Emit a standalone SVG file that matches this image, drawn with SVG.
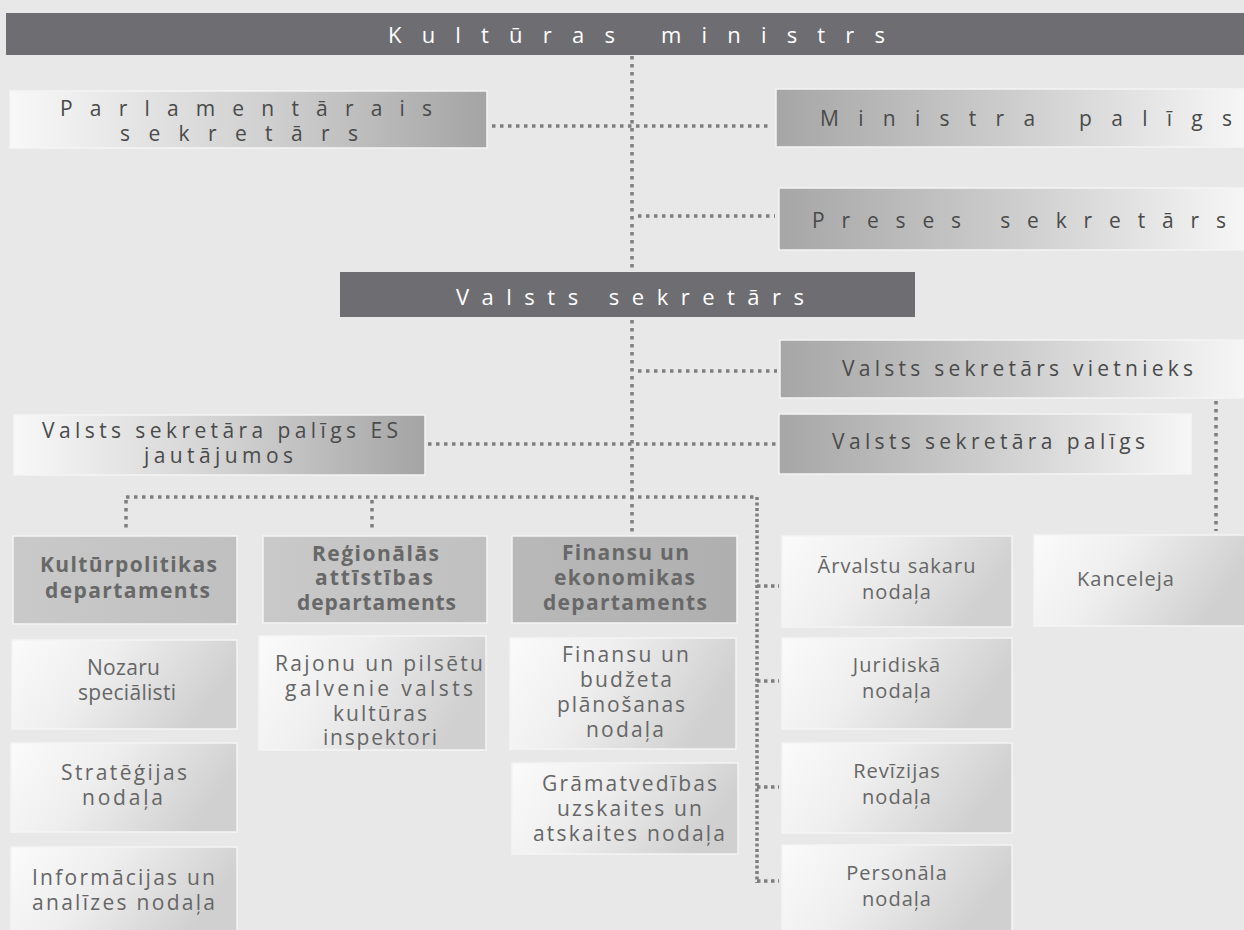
<svg xmlns="http://www.w3.org/2000/svg" width="1244" height="930" viewBox="0 0 1244 930">
<defs>
<linearGradient id="gWL" x1="0" y1="0" x2="1" y2="0"><stop offset="0" stop-color="#f8f8f8"/><stop offset="0.55" stop-color="#cfcfcf"/><stop offset="1" stop-color="#a4a4a4"/></linearGradient>
<linearGradient id="gGL" x1="0" y1="0" x2="1" y2="0"><stop offset="0" stop-color="#a6a6a6"/><stop offset="0.5" stop-color="#cdcdcd"/><stop offset="1" stop-color="#f6f6f6"/></linearGradient>
<linearGradient id="gSub" x1="0" y1="0" x2="1" y2="0.3"><stop offset="0" stop-color="#fbfbfb"/><stop offset="0.45" stop-color="#eeeeee"/><stop offset="1" stop-color="#d0d0d0"/></linearGradient>
<linearGradient id="gDep" x1="0" y1="0" x2="1" y2="0"><stop offset="0" stop-color="#c9c9c9"/><stop offset="1" stop-color="#c0c0c0"/></linearGradient>
<linearGradient id="gDepD" x1="0" y1="0" x2="1" y2="0"><stop offset="0" stop-color="#b9b9b9"/><stop offset="1" stop-color="#afafaf"/></linearGradient>
</defs>
<style>
text{font-family:"Open Sans","Noto Sans","DejaVu Sans",sans-serif;text-anchor:middle}
.bar{fill:#6d6d72}
.box{stroke:#f4f4f4;stroke-width:1.5}
.hdr{fill:#ffffff;font-size:22px}
.sp{fill:#4a4a4a;font-size:21px}
.dep{fill:#686868;font-size:21px;font-weight:bold}
.sub{fill:#666666;font-size:21px}
.sub4{fill:#666666;font-size:20px;letter-spacing:1px}
.dot{fill:none;stroke:#7e7e7e;stroke-width:3.5;stroke-dasharray:3.5 4.5}
.dotd{fill:none;stroke:#7e7e7e;stroke-width:3.5;stroke-dasharray:3 2.5}
.dots{fill:none;stroke:#7e7e7e;stroke-width:3.5;stroke-dasharray:3.5 3.5}
</style>
<rect width="1244" height="930" fill="#e8e8e8"/>

<g id="connectors">
<path class="dot" d="M632 56 V535"/>
<path class="dot" d="M492 126 H772"/>
<path class="dot" d="M638 216 H775"/>
<path class="dot" d="M638 371 H777"/>
<path class="dot" d="M428 444 H776"/>
<path class="dot" d="M1216 401 V531"/>
<path class="dot" d="M126 497 H754"/>
<path class="dot" d="M126 500 V529"/>
<path class="dot" d="M372 500 V531"/>
<path class="dotd" d="M757 497 V883"/>
<path class="dots" d="M757 586 H779"/>
<path class="dots" d="M757 681 H779"/>
<path class="dots" d="M757 787 H779"/>
<path class="dots" d="M757 881 H779"/>
</g>

<g id="ministrs">
<rect class="bar" x="6" y="13" width="1240" height="42"/>
<text class="hdr" x="636.5" y="43" textLength="497" lengthAdjust="spacing">Kultūras ministrs</text>
</g>
<g id="parlamentarais">
<rect class="box" x="10" y="91" width="477" height="57" fill="url(#gWL)"/>
<text class="sp" x="246" y="116" textLength="372" lengthAdjust="spacing">Parlamentārais</text>
<text class="sp" x="239" y="141" textLength="238" lengthAdjust="spacing">sekretārs</text>
</g>
<g id="ministra-paligs">
<rect class="box" x="776" y="89" width="470" height="58" fill="url(#gGL)"/>
<text class="sp" x="1026" y="126" textLength="412" lengthAdjust="spacing">Ministra palīgs</text>
</g>
<g id="preses">
<rect class="box" x="779" y="188" width="467" height="62" fill="url(#gGL)"/>
<text class="sp" x="1019" y="228" textLength="414" lengthAdjust="spacing">Preses sekretārs</text>
</g>
<g id="valsts-sekretars">
<rect class="bar" x="340" y="272" width="575" height="45"/>
<text class="hdr" x="630" y="305" textLength="348" lengthAdjust="spacing">Valsts sekretārs</text>
</g>
<g id="vietnieks">
<rect class="box" x="780" y="340" width="466" height="58" fill="url(#gGL)"/>
<text class="sp" x="1017.5" y="376" textLength="351" lengthAdjust="spacing">Valsts sekretārs vietnieks</text>
</g>
<g id="paligs-es">
<rect class="box" x="14" y="415" width="411" height="60" fill="url(#gWL)"/>
<text class="sp" x="220" y="438" textLength="356" lengthAdjust="spacing">Valsts sekretāra palīgs ES</text>
<text class="sp" x="218.5" y="463" textLength="149" lengthAdjust="spacing">jautājumos</text>
</g>
<g id="paligs">
<rect class="box" x="779" y="414" width="412" height="60" fill="url(#gGL)"/>
<text class="sp" x="988.5" y="449" textLength="313" lengthAdjust="spacing">Valsts sekretāra palīgs</text>
</g>

<g id="kulturpolitikas">
<rect class="box" x="13" y="536" width="224" height="88" fill="url(#gDep)"/>
<text class="dep" x="128.5" y="572" textLength="177" lengthAdjust="spacing">Kultūrpolitikas</text>
<text class="dep" x="127.5" y="598" textLength="165" lengthAdjust="spacing">departaments</text>
</g>
<g id="regionalas">
<rect class="box" x="263" y="536" width="224" height="87" fill="url(#gDep)"/>
<text class="dep" x="375.5" y="561" textLength="127" lengthAdjust="spacing">Reģionālās</text>
<text class="dep" x="374" y="585" textLength="118" lengthAdjust="spacing">attīstības</text>
<text class="dep" x="376.5" y="610" textLength="159" lengthAdjust="spacing">departaments</text>
</g>
<g id="finansu-ekonomikas">
<rect class="box" x="512" y="536" width="225" height="87" fill="url(#gDepD)"/>
<text class="dep" x="625.5" y="560" textLength="127" lengthAdjust="spacing">Finansu un</text>
<text class="dep" x="624.5" y="585" textLength="141" lengthAdjust="spacing">ekonomikas</text>
<text class="dep" x="625" y="610" textLength="164" lengthAdjust="spacing">departaments</text>
</g>
<g id="arvalstu">
<rect class="box" x="782" y="536" width="230" height="91" fill="url(#gSub)"/>
<text class="sub4" x="897" y="573">Ārvalstu sakaru</text>
<text class="sub4" x="897" y="599">nodaļa</text>
</g>
<g id="kanceleja">
<rect class="box" x="1034" y="535" width="212" height="91" fill="url(#gSub)"/>
<text class="sub4" x="1126" y="586">Kanceleja</text>
</g>

<g id="nozaru">
<rect class="box" x="12" y="640" width="225" height="89" fill="url(#gSub)"/>
<text class="sub" x="123.5" y="675" textLength="73" lengthAdjust="spacing">Nozaru</text>
<text class="sub" x="127" y="700" textLength="98" lengthAdjust="spacing">speciālisti</text>
</g>
<g id="strategijas">
<rect class="box" x="11" y="743" width="226" height="89" fill="url(#gSub)"/>
<text class="sub" x="124" y="780" textLength="126" lengthAdjust="spacing">Stratēģijas</text>
<text class="sub" x="122.5" y="805" textLength="81" lengthAdjust="spacing">nodaļa</text>
</g>
<g id="informacijas">
<rect class="box" x="11" y="847" width="226" height="86" fill="url(#gSub)"/>
<text class="sub" x="123.5" y="885" textLength="183" lengthAdjust="spacing">Informācijas un</text>
<text class="sub" x="123.5" y="910" textLength="183" lengthAdjust="spacing">analīzes nodaļa</text>
</g>
<g id="rajonu">
<rect class="box" x="259" y="636" width="227" height="114" fill="url(#gSub)"/>
<text class="sub" x="379" y="671" textLength="208" lengthAdjust="spacing">Rajonu un pilsētu</text>
<text class="sub" x="379" y="696" textLength="188" lengthAdjust="spacing">galvenie valsts</text>
<text class="sub" x="380" y="721" textLength="94" lengthAdjust="spacing">kultūras</text>
<text class="sub" x="380" y="745" textLength="114" lengthAdjust="spacing">inspektori</text>
</g>
<g id="finansu-budzeta">
<rect class="box" x="510" y="638" width="226" height="111" fill="url(#gSub)"/>
<text class="sub" x="625.5" y="662" textLength="127" lengthAdjust="spacing">Finansu un</text>
<text class="sub" x="626" y="687" textLength="92" lengthAdjust="spacing">budžeta</text>
<text class="sub" x="621" y="712" textLength="128" lengthAdjust="spacing">plānošanas</text>
<text class="sub" x="625" y="737" textLength="78" lengthAdjust="spacing">nodaļa</text>
</g>
<g id="gramatvedibas">
<rect class="box" x="512" y="763" width="226" height="91" fill="url(#gSub)"/>
<text class="sub" x="629.5" y="791" textLength="175" lengthAdjust="spacing">Grāmatvedības</text>
<text class="sub" x="629.5" y="816" textLength="145" lengthAdjust="spacing">uzskaites un</text>
<text class="sub" x="629" y="841" textLength="192" lengthAdjust="spacing">atskaites nodaļa</text>
</g>
<g id="juridiska">
<rect class="box" x="782" y="638" width="230" height="91" fill="url(#gSub)"/>
<text class="sub4" x="897" y="672">Juridiskā</text>
<text class="sub4" x="897" y="698">nodaļa</text>
</g>
<g id="revizijas">
<rect class="box" x="782" y="743" width="230" height="90" fill="url(#gSub)"/>
<text class="sub4" x="897" y="778">Revīzijas</text>
<text class="sub4" x="897" y="804">nodaļa</text>
</g>
<g id="personala">
<rect class="box" x="782" y="845" width="230" height="88" fill="url(#gSub)"/>
<text class="sub4" x="897" y="880">Personāla</text>
<text class="sub4" x="897" y="906">nodaļa</text>
</g>
</svg>
